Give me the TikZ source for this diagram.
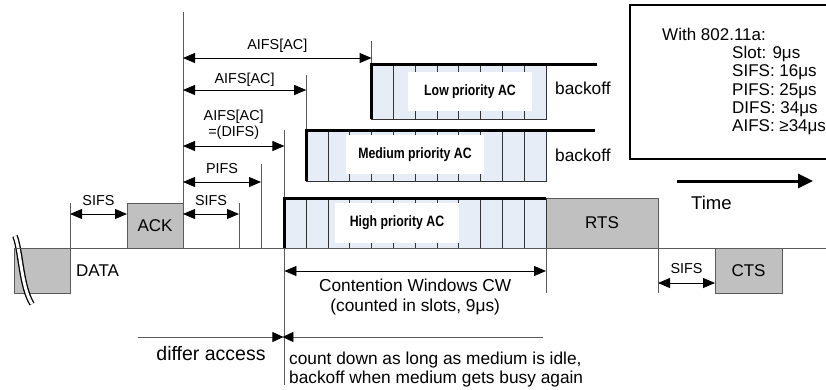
\documentclass[tikz,border=0pt]{standalone}
\usepackage{fontspec}
\setmainfont{Liberation Sans}
\newfontfamily\acfont[FakeStretch=0.82]{Liberation Sans}
\usetikzlibrary{positioning,arrows.meta,calc}

\definecolor{slotblue}{RGB}{230,237,247}
\definecolor{framegray}{RGB}{192,192,192}
\definecolor{rulegray}{RGB}{90,90,90}

\begin{document}
\begin{tikzpicture}[
        x=1pt, y=-1pt,
        frame/.style={draw=rulegray, fill=framegray, line width=0.8pt, inner sep=0pt, outer sep=0pt, font=\fontsize{17}{20}\selectfont},
        acbox/.style={draw=black!80, fill=slotblue, line width=0.8pt, inner sep=0pt, outer sep=0pt, anchor=north east},
        acname/.style={fill=white, inner sep=0pt, font=\acfont\fontsize{15}{17}\selectfont\bfseries},
        divider/.style={black!80, line width=0.8pt},
        tick/.style={rulegray, line width=0.8pt},
        edge/.style={line width=3pt, line join=miter},
        span/.style={{Triangle[length=12pt,width=10pt]}-{Triangle[length=12pt,width=10pt]}, line width=0.8pt},
        lbl/.style={font=\fontsize{14.4}{16}\selectfont, inner sep=0pt},
        big/.style={font=\fontsize{17.3}{18.5}\selectfont, inner sep=0pt},
        spanlbl/.style={lbl, midway, anchor=base, yshift=9pt},
        waitflow/.style={rulegray, line width=0.8pt, -{Triangle[length=11pt,width=10pt,color=black]}},
        timeflow/.style={line width=3pt, -{Triangle[length=15pt,width=14pt]}},
        breakmark/.style={line width=1.3pt, double=white, double distance=3pt}
    ]
    \useasboundingbox (0,0) rectangle (826,389);

    % Frames on the medium
    \node[frame, minimum width=56, minimum height=45, anchor=north west] (data) at (14,248) {};
    \node[frame, minimum width=56, minimum height=45, anchor=south west] (ack) at (127,248) {ACK};
    \node[frame, minimum width=112, minimum height=50, anchor=south west] (rts) at (546,248) {RTS};
    \node[frame, minimum width=67, minimum height=45, anchor=north west] (cts) at (715,248) {CTS};
    \node[big, font=\fontsize{17}{20}\selectfont, anchor=base west] (datalbl) at (76,276) {DATA};
    \draw[breakmark] (15,236) .. controls (21,252) and (21,286) .. (32,304);

    % Backoff slots of the three access categories
    \node[acbox, minimum width=174.4, minimum height=55] (low) at (546,64) {};
    \foreach \i in {1,...,7}
        \draw[divider] ($(low.north west)+(21.8*\i,0)$) -- ($(low.south west)+(21.8*\i,0)$);
    \node[acname, minimum width=124, minimum height=39] (lowname) at (470,91.5) {Low priority AC};

    \node[acbox, minimum width=239.8, minimum height=51] (med) at (546,130) {};
    \foreach \i in {1,...,10}
        \draw[divider] ($(med.north west)+(21.8*\i,0)$) -- ($(med.south west)+(21.8*\i,0)$);
    \node[acname, minimum width=138, minimum height=39] (medname) at (415,154.5) {Medium priority AC};

    \node[acbox, minimum width=261.6, minimum height=50] (high) at (546,198) {};
    \foreach \i in {1,...,11}
        \draw[divider] ($(high.north west)+(21.8*\i,0)$) -- ($(high.south west)+(21.8*\i,0)$);
    \node[acname, minimum width=124, minimum height=40] (highname) at (397,223) {High priority AC};

    \node[big, anchor=base west] (lowoff) at (555,94.3) {backoff};
    \node[big, anchor=base west] (medoff) at (555,161.7) {backoff};

    % Slot boundaries
    \coordinate[above=45pt of data.north east] (tdata);
    \coordinate[above=236pt of ack.south east] (tack);
    \coordinate[right=56pt of ack.north east] (tsifs);
    \coordinate (tpifs) at (261,164);
    \coordinate[above=68pt of high.north west] (tdifs);
    \coordinate[below=137pt of high.south west] (tend);
    \coordinate[above=55pt of med.north west] (tmed);
    \coordinate[above=23pt of low.north west] (tlow);
    \coordinate[below=45pt of high.south east] (tcw);
    \coordinate[below=45pt of rts.south east] (trts);
    \coordinate (lineend) at (826,248);

    \draw[tick] (data.north west) -- (lineend);
    \draw[tick] (data.north east) -- (tdata);
    \draw[tick] (ack.south east) -- (tack);
    \draw[tick] (tsifs) -- (tsifs |- ack.south);
    \draw[tick] (tpifs) -- (tpifs |- ack.south);
    \draw[tick] (tdifs) -- (tend);
    \draw[tick] (tmed) -- (med.north west);
    \draw[tick] (tlow) -- (low.north west);
    \draw[tick] (high.south east) -- (tcw);
    \draw[tick] (rts.south east) -- (trts);

    % Heavy edges of the slot rows
    \coordinate (lowend) at (597,64);
    \coordinate (medend) at (595,130);
    \draw[edge] (low.south west) -- (low.north west) -- (lowend);
    \draw[edge] (med.south west) -- (med.north west) -- (medend);
    \draw[edge] (high.south west) -- (high.north west) -- (high.north east);

    % Interframe spaces
    \coordinate (lvllow) at (0,58);
    \coordinate (lvlmed) at (0,90);
    \coordinate (lvldifs) at (0,146);
    \coordinate (lvlpifs) at (0,182);
    \coordinate (lvlsifs) at (0,214);
    \coordinate (lvlcw) at (0,271);
    \coordinate (lvlcts) at (0,283);

    \draw[span] (data.east |- lvlsifs) -- (ack.west |- lvlsifs) node[spanlbl] {SIFS};
    \draw[span] (ack.east |- lvlsifs) -- (tsifs |- lvlsifs) node[spanlbl] {SIFS};
    \draw[span] (ack.east |- lvlpifs) -- (tpifs |- lvlpifs) node[spanlbl] {PIFS};
    \draw[span] (ack.east |- lvldifs) -- (tdifs |- lvldifs)
        node[lbl, midway, align=center, anchor=south, yshift=6pt] {AIFS[AC]\\=(DIFS)};
    \draw[span] (ack.east |- lvlmed) -- (med.west |- lvlmed) node[spanlbl, yshift=-2pt] {AIFS[AC]};
    \draw[span] (ack.east |- lvllow) -- (low.west |- lvllow) node[spanlbl] {AIFS[AC]};
    \draw[span] (high.west |- lvlcw) -- (high.east |- lvlcw)
        node[big, font=\fontsize{17.3}{20}\selectfont, midway, align=center, anchor=north, yshift=-8pt] {Contention Windows CW\\(counted in slots, 9μs)};
    \draw[span] (rts.east |- lvlcts) -- (cts.west |- lvlcts) node[spanlbl, yshift=1pt] {SIFS};

    % Time axis
    \coordinate (timestart) at (677,181);
    \coordinate (timeend) at (813,181);
    \draw[timeflow] (timestart) -- (timeend);
    \node[big, font=\fontsize{18.5}{20}\selectfont, anchor=base west] (timelbl) at (691,209) {Time};

    % 802.11a values
    \draw[line width=1.4pt] (826,5) -- (630,5) -- (630,159) -- (826,159);
    \node[big, font=\fontsize{17}{18.3}\selectfont, anchor=base west] (infohead) at (662,40) {With 802.11a:};
    \node[big, font=\fontsize{17}{18.3}\selectfont, align=left, anchor=north west] (infovals) at (732,46)
        {Slot: 9μs\\SIFS: 16μs\\PIFS: 25μs\\DIFS: 34μs\\AIFS: ≥34μs};

    % Access rule
    \coordinate (waitstart) at (138,337);
    \coordinate (countend) at (543,337);
    \draw[waitflow, shorten >=1pt] (waitstart) -- (tdifs |- waitstart);
    \draw[waitflow, shorten >=-2pt] (countend) -- (tend |- countend);
    \node[big, font=\fontsize{19.5}{21}\selectfont] (differ) at (211,354) {differ access};
    \node[big, align=left, anchor=north west] (countlbl) at (289,352)
        {count down as long as medium is idle,\\backoff when medium gets busy again};
\end{tikzpicture}
\end{document}
